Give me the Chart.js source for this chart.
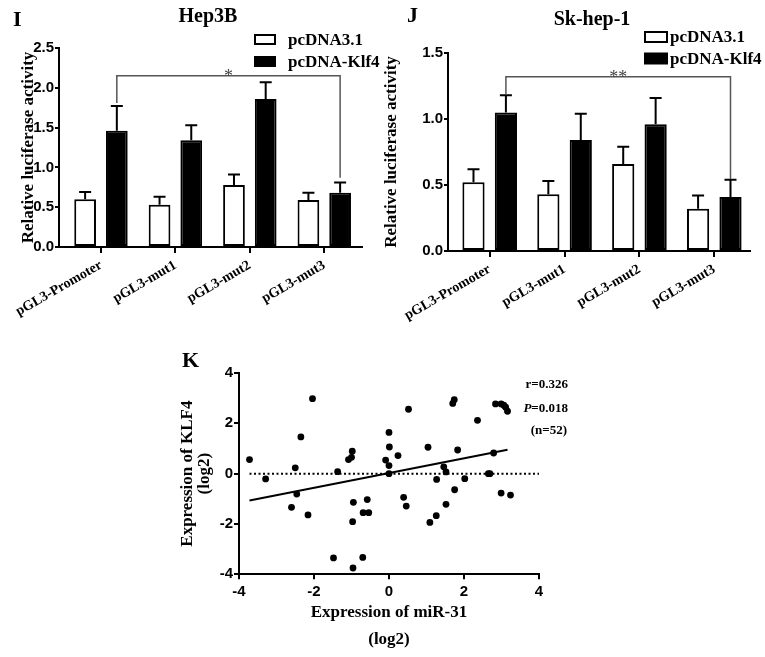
<!DOCTYPE html>
<html>
<head>
<meta charset="utf-8">
<script src="https://cdn.jsdelivr.net/npm/chart.js@4.4.1/dist/chart.umd.min.js"></script>
<style>
  html, body { margin: 0; padding: 0; background: #fff; }
  body { width: 765px; height: 657px; position: relative; overflow: hidden; }
  canvas { position: absolute; }
</style>
</head>
<body>
<canvas id="chartI" width="385" height="330" style="left:0;top:0"></canvas>
<canvas id="chartJ" width="385" height="330" style="left:380px;top:0"></canvas>
<canvas id="chartK" width="410" height="307" style="left:170px;top:350px"></canvas>
<script>
// ── data ────────────────────────────────────────────────────────────────
const constructs  = ['pGL3-Promoter', 'pGL3-mut1', 'pGL3-mut2', 'pGL3-mut3'];
const seriesNames = ['pcDNA3.1', 'pcDNA-Klf4'];

const hep3bCtrl    = [0.60, 0.53, 0.78, 0.59];
const hep3bCtrlErr = [0.09, 0.10, 0.13, 0.09];
const hep3bKlf4    = [1.46, 1.34, 1.86, 0.68];
const hep3bKlf4Err = [0.31, 0.19, 0.21, 0.13];

const skhepCtrl    = [0.52, 0.43, 0.66, 0.32];
const skhepCtrlErr = [0.10, 0.10, 0.13, 0.10];
const skhepKlf4    = [1.05, 0.84, 0.96, 0.41];
const skhepKlf4Err = [0.13, 0.20, 0.20, 0.13];

const mir31 = [-3.72, -3.29, -2.04, -2.35, -2.50, -2.46, -2.60, -2.16, -1.37, -1.48,
               -1.08, -1.00, -0.98, -0.95, -0.97, -0.96, -0.70, -0.69, -0.58, -0.54,
               -0.09,  0.00,  0.01,  0.00,  0.00,  0.24,  0.52,  0.39,  0.46,  1.04,
                1.09,  1.26,  1.27,  1.46,  1.52,  1.52,  1.70,  1.74,  1.83,  1.75,
                2.02,  2.36,  2.65,  2.79,  2.84,  2.99,  3.11,  3.16,  2.99,  3.24,
                3.06,  2.69];
const klf4  = [ 0.56, -0.21,  2.98,  1.46,  0.23, -0.81, -1.34, -1.64,  0.08, -3.35,
                0.56,  0.65,  0.89, -1.14, -1.91, -3.75, -3.33, -1.55, -1.03, -1.55,
                0.54,  1.64,  1.06,  0.32,  0.00,  0.72,  2.56, -0.94, -1.29,  1.05,
               -1.94, -1.67, -0.23,  0.27,  0.07, -1.22,  2.79,  2.94,  0.94, -0.64,
               -0.20,  2.12,  0.00,  0.82,  2.77,  2.77,  2.64,  2.48, -0.77, -0.85,
                2.72,  0.00];
const fitX  = [-3.72, 3.16];
const fitY  = [-1.07, 0.95];
const zeroX = [-3.72, 4];
const statsText = ['r=0.326', '=0.018', '(n=52)'];

// ── style helpers ───────────────────────────────────────────────────────
const SERIF = "'Liberation Serif', 'Times New Roman', serif";
const SANS  = "'Liberation Sans', Arial, sans-serif";
const tickFont = { family: SANS, size: 15, weight: 'bold' };

// upward-only SEM whiskers with caps, as Prism draws them
const errorBars = {
  id: 'errorBars',
  afterDatasetsDraw(chart) {
    const { ctx, scales: { y } } = chart;
    ctx.save();
    ctx.strokeStyle = '#000';
    ctx.lineWidth = 2;
    chart.data.datasets.forEach((ds, di) => {
      chart.getDatasetMeta(di).data.forEach((bar, i) => {
        const top = y.getPixelForValue(ds.data[i].y + ds.err[i]);
        ctx.beginPath();
        ctx.moveTo(bar.x, bar.y);
        ctx.lineTo(bar.x, top);
        ctx.moveTo(bar.x - 6, top);
        ctx.lineTo(bar.x + 6, top);
        ctx.stroke();
      });
    });
    ctx.restore();
  }
};

// significance bracket between two bars
const bracket = {
  id: 'bracket',
  afterDatasetsDraw(chart, args, o) {
    const { ctx, scales: { y } } = chart;
    const meta = chart.getDatasetMeta(o.dataset);
    const x1 = meta.data[o.from].x, x2 = meta.data[o.to].x;
    const yl = y.getPixelForValue(o.level);
    ctx.save();
    ctx.strokeStyle = '#555';
    ctx.lineWidth = 1.5;
    ctx.beginPath();
    ctx.moveTo(x1, y.getPixelForValue(o.ends[0]));
    ctx.lineTo(x1, yl);
    ctx.lineTo(x2, yl);
    ctx.lineTo(x2, y.getPixelForValue(o.ends[1]));
    ctx.stroke();
    ctx.fillStyle = '#444';
    ctx.font = '18px ' + SERIF;
    ctx.textAlign = 'center';
    ctx.textBaseline = 'alphabetic';
    ctx.fillText(o.text, (x1 + x2) / 2, yl + 6);
    ctx.restore();
  }
};

const legendBoxes = {
  id: 'legendBoxes',
  afterDraw(chart, args, o) {
    const ctx = chart.ctx;
    ctx.save();
    chart.data.datasets.forEach((ds, i) => {
      const cy = o.rows[i];
      ctx.fillStyle = ds.backgroundColor;
      ctx.strokeStyle = '#000';
      ctx.lineWidth = 2;
      ctx.fillRect(o.x, cy - o.boxH / 2, o.boxW, o.boxH);
      ctx.strokeRect(o.x, cy - o.boxH / 2, o.boxW, o.boxH);
      ctx.fillStyle = '#000';
      ctx.font = 'bold 17px ' + SERIF;
      ctx.textBaseline = 'middle';
      ctx.textAlign = 'left';
      ctx.fillText(ds.label, o.textX, cy + 1);
    });
    ctx.restore();
  }
};

// panel letters, titles, free text
const panelText = {
  id: 'panelText',
  afterDraw(chart, args, o) {
    const ctx = chart.ctx;
    ctx.save();
    ctx.fillStyle = '#000';
    ctx.textBaseline = 'alphabetic';
    (o.items || []).forEach(it => {
      ctx.font = it.font;
      ctx.textAlign = it.align || 'left';
      ctx.fillText(it.text, it.x, it.y);
    });
    ctx.restore();
  }
};

function barPanel(canvas, o) {
  const bar = (label, vals, err, fill) => ({
    label,
    data: vals.map((v, i) => ({ x: i, y: v })),
    err,
    backgroundColor: fill,
    borderColor: '#000',
    borderWidth: 2,
    borderSkipped: false,
    categoryPercentage: o.catPct,
    barPercentage: 0.685,
  });
  return new Chart(canvas, {
    type: 'bar',
    data: {
      datasets: [
        bar(seriesNames[0], o.ctrl, o.ctrlErr, '#fff'),
        bar(seriesNames[1], o.klf4, o.klf4Err, '#000'),
      ],
    },
    plugins: [errorBars, bracket, legendBoxes, panelText],
    options: {
      responsive: false,
      animation: false,
      layout: { padding: { top: o.top, right: o.right, left: 0, bottom: 0 } },
      plugins: {
        legend: { display: false },
        tooltip: { enabled: false },
        bracket: o.bracket,
        legendBoxes: o.legend,
        panelText: { items: o.texts },
      },
      scales: {
        x: {
          type: 'linear', min: o.xMin, max: o.xMax, offset: false,
          afterBuildTicks: s => { s.ticks = constructs.map((_, i) => ({ value: i })); },
          afterFit: s => { s.height = o.xAxisH; s.paddingLeft = 0; s.paddingRight = 0; },
          ticks: {
            callback: v => constructs[v],
            autoSkip: false, minRotation: 30, maxRotation: 30, padding: 4,
            color: '#000', font: { family: SERIF, size: 14, weight: 'bold' },
          },
          grid: { drawOnChartArea: false, offset: false, tickLength: 6, color: '#000', lineWidth: 2 },
          border: { color: '#000', width: 2 },
        },
        y: {
          min: 0, max: o.yMax,
          afterFit: s => { s.width = o.yAxisW; },
          ticks: { stepSize: 0.5, callback: v => v.toFixed(1), padding: 1, color: '#000', font: tickFont },
          grid: { drawOnChartArea: false, tickLength: 4, color: '#000', lineWidth: 2 },
          border: { color: '#000', width: 2 },
          title: {
            display: true, text: 'Relative luciferase activity', color: '#000',
            font: { family: SERIF, size: 17, weight: 'bold' },
            padding: { top: o.yTitlePad, bottom: 0 },
          },
        },
      },
    },
  });
}

barPanel(document.getElementById('chartI'), {
  ctrl: hep3bCtrl, ctrlErr: hep3bCtrlErr, klf4: hep3bKlf4, klf4Err: hep3bKlf4Err,
  top: 48, right: 23, xAxisH: 83, yAxisW: 59, yTitlePad: 18,
  xMin: -0.564, xMax: 3.507, yMax: 2.5, catPct: 0.852,
  bracket: { dataset: 1, from: 0, to: 3, level: 2.15, ends: [1.81, 0.87], text: '*' },
  legend: { x: 255, boxW: 20, boxH: 9, rows: [39.5, 61.5], textX: 288 },
  texts: [
    { text: 'I', x: 13, y: 26, font: 'bold 22px ' + SERIF },
    { text: 'Hep3B', x: 208, y: 22, font: 'bold 20px ' + SERIF, align: 'center' },
  ],
});

barPanel(document.getElementById('chartJ'), {
  ctrl: skhepCtrl, ctrlErr: skhepCtrlErr, klf4: skhepKlf4, klf4Err: skhepKlf4Err,
  top: 53, right: 15, xAxisH: 79, yAxisW: 68, yTitlePad: 1,
  xMin: -0.557, xMax: 3.477, yMax: 1.5, catPct: 0.866,
  bracket: { dataset: 1, from: 0, to: 3, level: 1.32, ends: [1.19, 0.545], text: '**' },
  legend: { x: 265, boxW: 22, boxH: 10, rows: [37, 58.5], textX: 290 },
  texts: [
    { text: 'J', x: 27, y: 22, font: 'bold 22px ' + SERIF },
    { text: 'Sk-hep-1', x: 212, y: 25, font: 'bold 20px ' + SERIF, align: 'center' },
  ],
});

// ── K: correlation scatter ──────────────────────────────────────────────
const statsLabel = {
  id: 'statsLabel',
  afterDraw(chart, args, o) {
    const ctx = chart.ctx;
    ctx.save();
    ctx.fillStyle = '#000';
    ctx.textBaseline = 'middle';
    ctx.textAlign = 'right';
    ctx.font = 'bold 13px ' + SERIF;
    ctx.fillText(statsText[0], o.right, o.rows[0]);
    ctx.fillText(statsText[1], o.right, o.rows[1]);
    const w = ctx.measureText(statsText[1]).width;
    ctx.font = 'italic bold 13px ' + SERIF;
    ctx.fillText('P', o.right - w, o.rows[1]);
    ctx.font = 'bold 13px ' + SERIF;
    ctx.fillText(statsText[2], o.right - 1, o.rows[2]);
    ctx.restore();
  }
};

const axisK = (title, fit, pad, extra) => ({
  type: 'linear', min: -4, max: 4,
  afterFit: fit,
  ticks: { stepSize: 2, padding: pad, color: '#000', font: tickFont },
  grid: { drawOnChartArea: false, tickLength: 5, color: '#000', lineWidth: 2 },
  border: { color: '#000', width: 2 },
  title: Object.assign({ display: true, text: title, color: '#000' }, extra),
});

new Chart(document.getElementById('chartK'), {
  type: 'scatter',
  data: {
    datasets: [
      {
        data: mir31.map((x, i) => ({ x, y: klf4[i] })),
        backgroundColor: '#000', borderWidth: 0, pointRadius: 3.4,
      },
      {
        type: 'line',
        data: fitX.map((x, i) => ({ x, y: fitY[i] })),
        borderColor: '#000', borderWidth: 2, pointRadius: 0, fill: false,
      },
      {
        type: 'line',
        data: zeroX.map(x => ({ x, y: 0 })),
        borderColor: '#000', borderWidth: 2, borderDash: [2, 2.5], pointRadius: 0, fill: false,
      },
    ],
  },
  plugins: [statsLabel, panelText],
  options: {
    responsive: false,
    animation: false,
    layout: { padding: { top: 23, right: 41, left: 0, bottom: 0 } },
    plugins: {
      legend: { display: false },
      tooltip: { enabled: false },
      statsLabel: { right: 398, rows: [35, 59, 81] },
      panelText: { items: [{ text: 'K', x: 12, y: 17, font: 'bold 22px ' + SERIF }] },
    },
    scales: {
      x: axisK(['Expression of miR-31', '(log2)'], s => { s.height = 82.7; s.paddingLeft = 0; s.paddingRight = 0; }, 4, {
        font: { family: SERIF, size: 17, weight: 'bold', lineHeight: 1.6 },
        padding: { top: 0, bottom: 4 },
      }),
      y: axisK(['Expression of KLF4', '(log2)'], s => { s.width = 69; }, 1, {
        font: { family: SERIF, size: 17, weight: 'bold', lineHeight: 0.95 },
        padding: { top: 10, bottom: 0 },
      }),
    },
  },
});
</script>
</body>
</html>
